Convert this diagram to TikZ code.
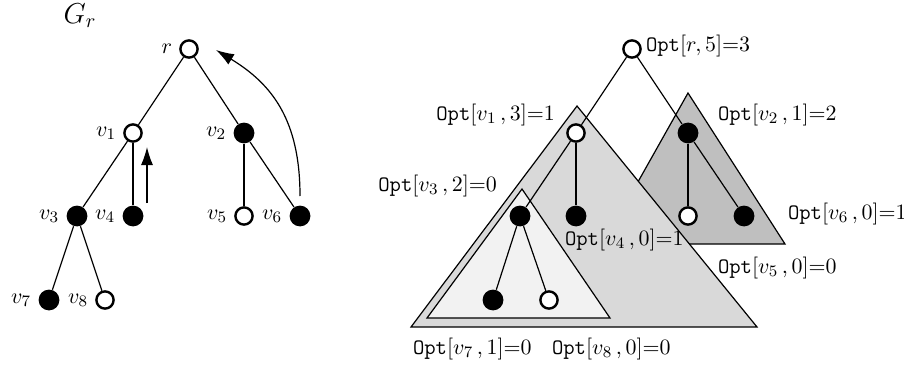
\documentclass[tikz,border=0pt]{standalone}
\usepackage{amsmath,amssymb}
\usepackage{tikz}
\usetikzlibrary{arrows.meta,calc,positioning}
\definecolor{TriLow}{gray}{0.95}
\definecolor{TriMid}{gray}{0.85}
\definecolor{TriTop}{gray}{0.75}
\newcommand{\optv}[3]{\texttt{Opt}$[v_{#1}\,, #2]{=}#3$}

\begin{document}
\begin{tikzpicture}[x=.5pt,y=-.5pt,font=\fontsize{11}{13}\selectfont,
  wv/.style={circle,draw,line width=1.2pt,fill=white,minimum size=8.6pt,inner sep=0pt},
  bv/.style={circle,fill=black,minimum size=10.4pt,inner sep=0pt},
  ed/.style={line width=.6pt},
  tip/.style={-{Latex[length=9pt,width=6pt]}},
  tri/.style={draw,line width=.6pt}]
  \useasboundingbox (0,0) rectangle (904,369);
  \node (G) at (80,16) {\Large $G_r$};
  % left tree
  \node[wv,label=left:$r$] (Lr) at (189,49) {};
  \node[wv,label=left:$v_1$] (L1) at (133,133) {};
  \node[bv,label=left:$v_2$] (L2) at (244,133) {};
  \node[bv,label=left:$v_3$] (L3) at (77,216) {};
  \node[bv,label=left:$v_4$] (L4) at (133,216) {};
  \node[wv,label=left:$v_5$] (L5) at (244,216) {};
  \node[bv,label=left:$v_6$] (L6) at (300,216) {};
  \node[bv,label=left:$v_7$] (L7) at (49,300) {};
  \node[wv,label=left:$v_8$] (L8) at (105,300) {};
  \foreach \a/\b in {Lr/L1,Lr/L2,L1/L3,L1/L4,L2/L5,L2/L6,L3/L7,L3/L8}
    \draw[ed] (\a) -- (\b);
  \coordinate (up4) at (147,203);
  \coordinate (hd4) at (147,147);
  \coordinate (up6) at (300,196);
  \coordinate (hdr) at (216,50);
  \draw[ed,tip] (up4) -- (hd4);
  \draw[ed,tip] (up6) .. controls (300,120) and (272,84) .. (hdr);
  % right tree, subtrees shaded
  \draw[tri,fill=TriTop] (688,93) -- (785,244) -- (603,244) -- cycle;
  \draw[tri,fill=TriMid] (577,106) -- (757,327) -- (411,327) -- cycle;
  \draw[tri,fill=TriLow] (522,189) -- (610,318) -- (427,318) -- cycle;
  \node[wv] (Rr) at (632,49) {};
  \node[wv] (R1) at (576,133) {};
  \node[bv] (R2) at (688,133) {};
  \node[bv] (R3) at (520,216) {};
  \node[bv] (R4) at (576,216) {};
  \node[wv] (R5) at (688,216) {};
  \node[bv] (R6) at (744,216) {};
  \node[bv] (R7) at (493,300) {};
  \node[wv] (R8) at (549,300) {};
  \foreach \a/\b in {Rr/R1,Rr/R2,R1/R3,R1/R4,R2/R5,R2/R6,R3/R7,R3/R8}
    \draw[ed] (\a) -- (\b);
  \node[anchor=west] (Or) at (639,46) {\texttt{Opt}$[r, 5]{=}3$};
  \node[anchor=east] (O1) at (562,115) {\optv{1}{3}{1}};
  \node[anchor=west] (O2) at (711,115) {\optv{2}{1}{2}};
  \node[anchor=east] (O3) at (504,186) {\optv{3}{2}{0}};
  \node[anchor=west] (O4) at (558,240) {\optv{4}{0}{1}};
  \node[anchor=west] (O5) at (711,268) {\optv{5}{0}{0}};
  \node[anchor=west] (O6) at (781,214) {\optv{6}{0}{1}};
  \node[anchor=west] (O7) at (406,349) {\optv{7}{1}{0}};
  \node[anchor=west] (O8) at (545,349) {\optv{8}{0}{0}};
\end{tikzpicture}
\end{document}
